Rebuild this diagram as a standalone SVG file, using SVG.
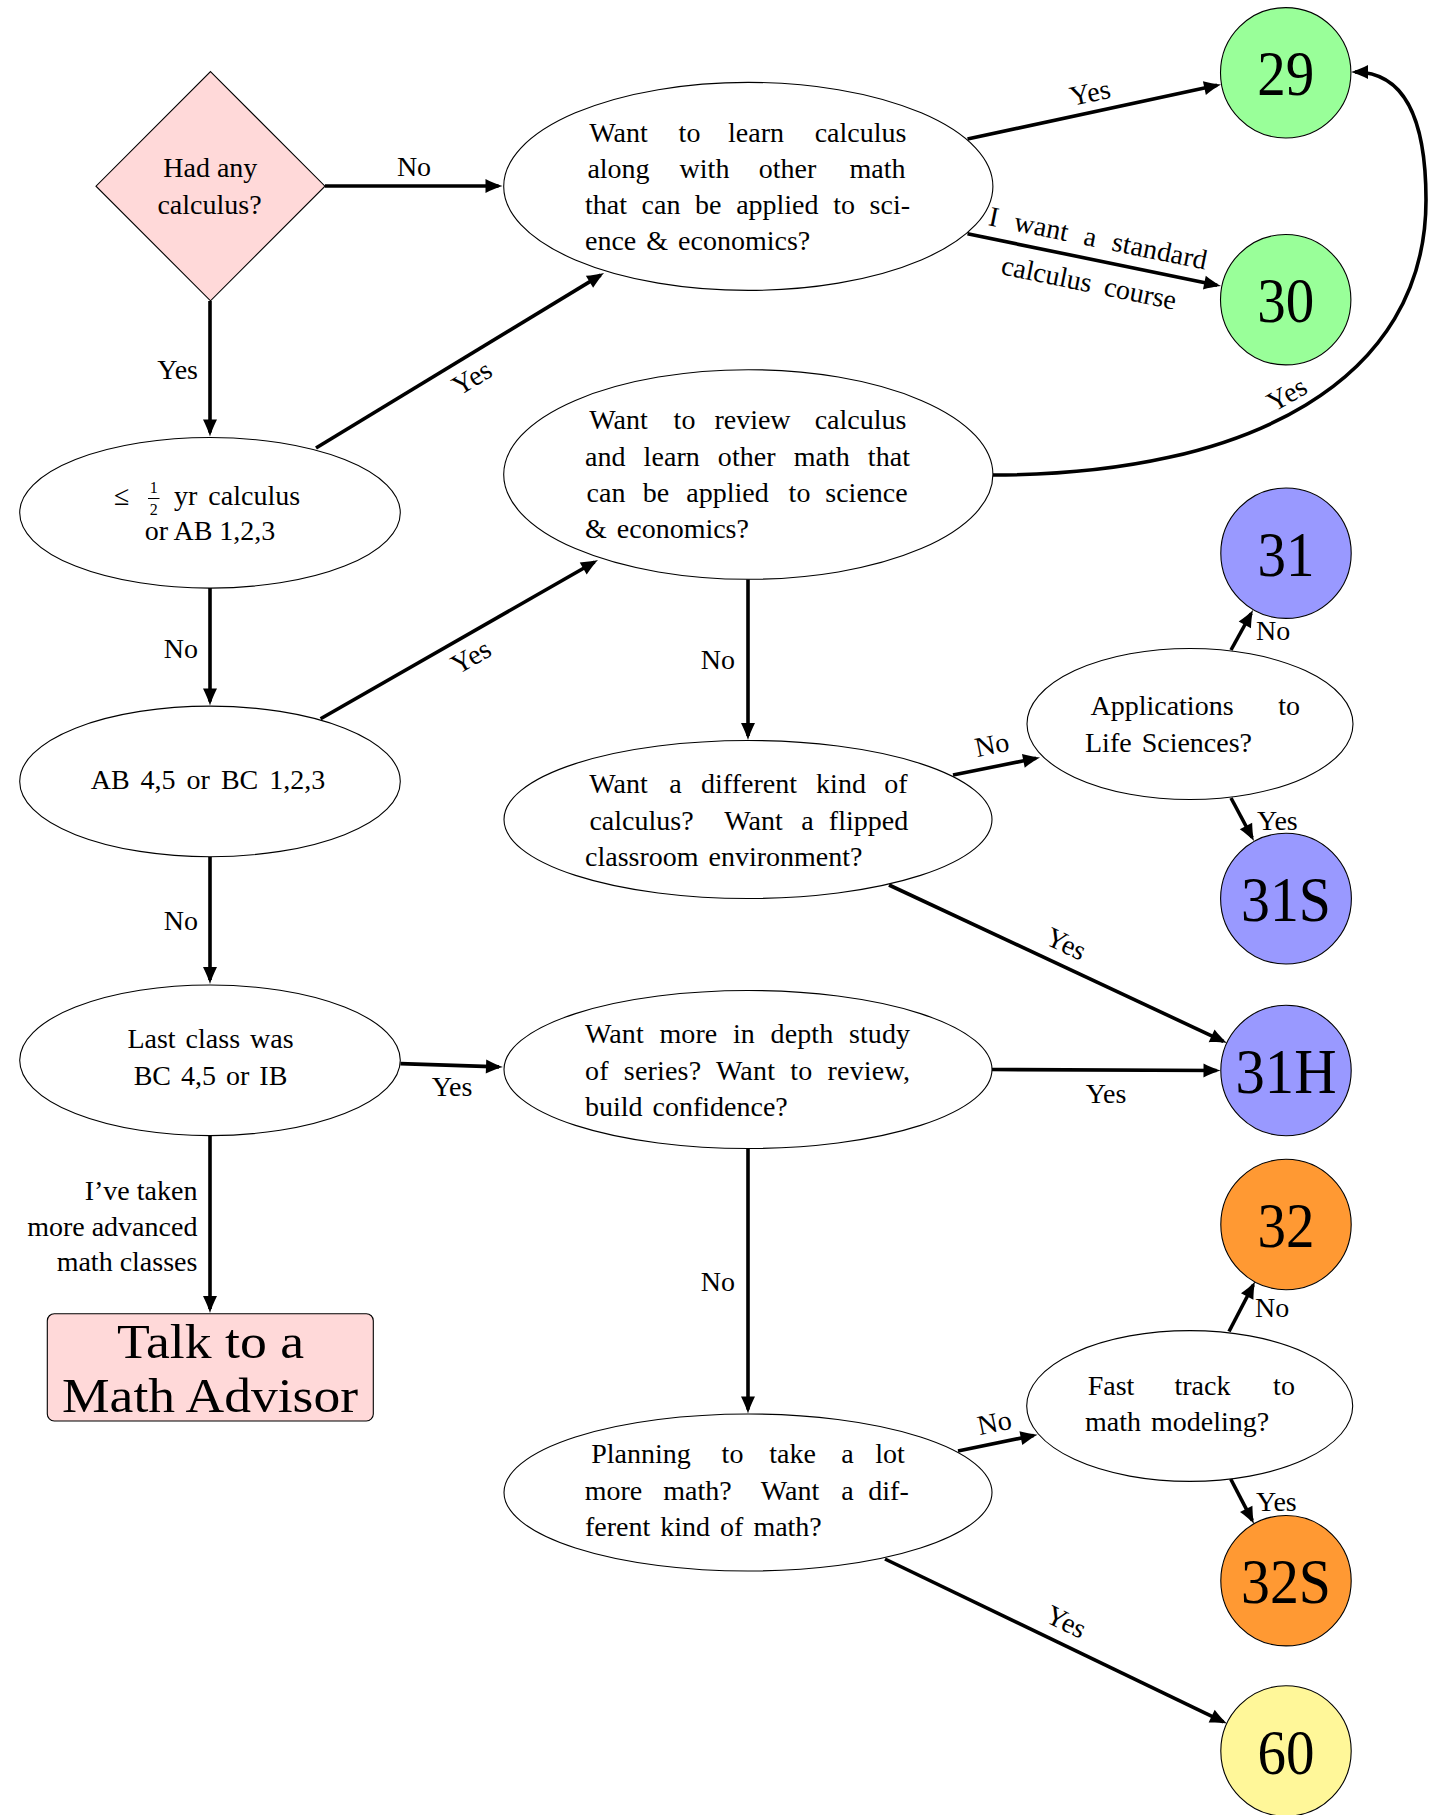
<svg xmlns="http://www.w3.org/2000/svg" width="1435" height="1815" viewBox="0 0 1435 1815">
<style>
text { font-family: "Liberation Serif", "Times New Roman", serif; font-size: 28px; fill: #000; }
.c { text-anchor: middle; }
.e { text-anchor: end; }
.big { font-size: 64px; text-anchor: middle; }
.huge { font-size: 49px; text-anchor: middle; }
.frac { font-size: 16px; text-anchor: middle; }
.shape { fill: #fff; stroke: #000; stroke-width: 1.1; }
.pink { fill: #FFD9D9; }
.green { fill: #99FF99; }
.blue { fill: #9999FF; }
.orange { fill: #FF9933; }
.yellow { fill: #FFF799; }
.edge { fill: none; stroke: #000; stroke-width: 3.6; marker-end: url(#arr); }
</style>
<defs>
<marker id="arr" markerUnits="userSpaceOnUse" markerWidth="24" markerHeight="18" viewBox="-16 -9 24 18" refX="0" refY="0" orient="auto" overflow="visible">
<path d="M4,0 C-2,-1.8 -8,-4.5 -13,-7 L-13,7 C-8,4.5 -2,1.8 4,0 Z" fill="#000"/>
</marker>
</defs>

<g id="connectors">
<path class="edge" d="M325,186 L498.5,186"/>
<path class="edge" d="M210,301 L210,432.5"/>
<path class="edge" d="M316,448 L600.6,275.1"/>
<path class="edge" d="M967.5,139 L1217.1,85.3"/>
<path class="edge" d="M967.5,233.8 L1217.1,285.2"/>
<path class="edge" d="M993,475 C1250,475 1426,380 1426,200 C1426,120 1405,72 1355,72"/>
<path class="edge" d="M210,588 L210,701.5"/>
<path class="edge" d="M320.6,718.7 L594.5,562"/>
<path class="edge" d="M210,856.7 L210,980"/>
<path class="edge" d="M748,579.3 L748,736"/>
<path class="edge" d="M953,775 L1036.1,758.3"/>
<path class="edge" d="M1231,650 L1251.1,613.5"/>
<path class="edge" d="M1231,798 L1252.1,837.5"/>
<path class="edge" d="M889,885 L1223.4,1041.3"/>
<path class="edge" d="M400.4,1063.6 L499,1066.9"/>
<path class="edge" d="M992,1069.5 L1216.5,1070.5"/>
<path class="edge" d="M210,1135.5 L210,1309"/>
<path class="edge" d="M748,1148.5 L748,1409.5"/>
<path class="edge" d="M958,1451 L1033.6,1435.5"/>
<path class="edge" d="M1229,1331.5 L1253.2,1285"/>
<path class="edge" d="M1230.7,1479 L1252.2,1520.4"/>
<path class="edge" d="M885,1559 L1223.4,1721.8"/>

<text class="c" x="414" y="175.5">No</text>
<text class="e" x="198" y="379">Yes</text>
<text class="c" transform="translate(472,378) rotate(-31.3)" y="9">Yes</text>
<text class="c" transform="translate(471,657) rotate(-29.8)" y="9">Yes</text>
<text class="e" x="198" y="657.5">No</text>
<text class="e" x="198" y="930">No</text>
<text class="c" transform="translate(1090,93) rotate(-12.1)" y="9">Yes</text>
<text class="c" transform="translate(1098,238.5) rotate(11.6)" y="9" word-spacing="9" textLength="222">I want a standard</text>
<text class="c" transform="translate(1089,283) rotate(11.6)" y="9" word-spacing="6">calculus course</text>
<text class="c" transform="translate(1287,394.5) rotate(-30)" y="9">Yes</text>
<text class="e" x="735" y="668.6">No</text>
<text class="c" transform="translate(992,745) rotate(-11.4)" y="9">No</text>
<text x="1256" y="640">No</text>
<text x="1257" y="829.5">Yes</text>
<text class="c" transform="translate(1066,944) rotate(25)" y="9">Yes</text>
<text class="c" x="452" y="1096">Yes</text>
<text class="c" x="1106" y="1103">Yes</text>
<text class="e" x="197.4" y="1199.5">I’ve taken</text>
<text class="e" x="197.4" y="1236">more advanced</text>
<text class="e" x="197.4" y="1271">math classes</text>
<text class="e" x="735" y="1291">No</text>
<text class="c" transform="translate(994.4,1423) rotate(-11.6)" y="9">No</text>
<text x="1255" y="1317">No</text>
<text x="1256" y="1511">Yes</text>
<text class="c" transform="translate(1066,1622) rotate(25.7)" y="9">Yes</text>
</g>

<g id="start">
<polygon class="shape pink" points="210.5,71.6 325,186.2 210.5,300.8 96,186.2"/>
<text class="c" x="210.3" y="177.4">Had any</text>
<text class="c" x="209.5" y="213.8">calculus?</text>
</g>

<g id="learn">
<ellipse class="shape" cx="748.3" cy="186.4" rx="244.6" ry="104"/>
<text class="c"><tspan x="618.5" y="142">Want</tspan><tspan x="689.5">to</tspan><tspan x="756">learn</tspan><tspan x="860.5">calculus</tspan></text>
<text class="c"><tspan x="618.5" y="178">along</tspan><tspan x="704.5">with</tspan><tspan x="787.5">other</tspan><tspan x="877.5">math</tspan></text>
<text x="585" y="214" word-spacing="7.6" textLength="325" lengthAdjust="spacing">that can be applied to sci-</text>
<text x="585" y="250" word-spacing="3">ence &amp; economics?</text>
</g>

<g id="n29">
<circle class="shape green" cx="1285.7" cy="72.8" r="65.2"/>
<text class="big" x="1285.7" y="95" textLength="57" lengthAdjust="spacingAndGlyphs">29</text>
</g>
<g id="n30">
<circle class="shape green" cx="1285.7" cy="299.7" r="65.2"/>
<text class="big" x="1285.7" y="322" textLength="57" lengthAdjust="spacingAndGlyphs">30</text>
</g>

<g id="half">
<ellipse class="shape" cx="210" cy="512.8" rx="190.3" ry="75.3"/>
<text class="c" x="121.7" y="505">≤</text>
<text class="frac" x="153.7" y="493">1</text>
<line x1="148" y1="498.5" x2="159.5" y2="498.5" stroke="#000" stroke-width="1"/>
<text class="frac" x="153.7" y="514.5">2</text>
<text x="174" y="505" word-spacing="4">yr calculus</text>
<text class="c" x="210" y="540">or AB 1,2,3</text>
</g>

<g id="review">
<ellipse class="shape" cx="748.3" cy="474.5" rx="244.6" ry="104.8"/>
<text class="c"><tspan x="618.5" y="429">Want</tspan><tspan x="684.5">to</tspan><tspan x="752.5">review</tspan><tspan x="860.5">calculus</tspan></text>
<text x="585" y="466" word-spacing="11" textLength="325" lengthAdjust="spacing">and learn other math that</text>
<text class="c"><tspan x="606" y="502">can</tspan><tspan x="656">be</tspan><tspan x="727.5">applied</tspan><tspan x="799.5">to</tspan><tspan x="866.5">science</tspan></text>
<text x="585" y="538" word-spacing="3">&amp; economics?</text>
</g>

<g id="n31">
<circle class="shape blue" cx="1286" cy="553.2" r="65.2"/>
<text class="big" x="1286" y="575.5" textLength="57" lengthAdjust="spacingAndGlyphs">31</text>
</g>

<g id="ab45">
<ellipse class="shape" cx="210" cy="781.4" rx="190.3" ry="75.3"/>
<text class="c" x="208" y="789" word-spacing="4">AB 4,5 or BC 1,2,3</text>
</g>

<g id="lifesci">
<ellipse class="shape" cx="1190" cy="724" rx="163" ry="75.5"/>
<text class="c" x="1162" y="715">Applications</text>
<text class="e" x="1300" y="715">to</text>
<text x="1085" y="752" word-spacing="3">Life Sciences?</text>
</g>

<g id="different">
<ellipse class="shape" cx="748" cy="819.5" rx="244" ry="79"/>
<text class="c"><tspan x="618.5" y="793">Want</tspan><tspan x="675.5">a</tspan><tspan x="749">different</tspan><tspan x="841">kind</tspan><tspan x="896">of</tspan></text>
<text class="c"><tspan x="641.5" y="830">calculus?</tspan><tspan x="753.5">Want</tspan><tspan x="807.5">a</tspan><tspan x="868.5">flipped</tspan></text>
<text x="585" y="866" word-spacing="3">classroom environment?</text>
</g>

<g id="n31S">
<circle class="shape blue" cx="1286" cy="898.6" r="65.4"/>
<text class="big" x="1286" y="921" textLength="90" lengthAdjust="spacingAndGlyphs">31S</text>
</g>

<g id="lastclass">
<ellipse class="shape" cx="210" cy="1060.3" rx="190.3" ry="75.3"/>
<text class="c" x="210.5" y="1048" word-spacing="3">Last class was</text>
<text class="c" x="210.5" y="1084.7" word-spacing="3">BC 4,5 or IB</text>
</g>

<g id="series">
<ellipse class="shape" cx="748" cy="1069.5" rx="244" ry="79"/>
<text x="585" y="1043" word-spacing="8.5" textLength="325" lengthAdjust="spacing">Want more in depth study</text>
<text x="585" y="1080" word-spacing="8" textLength="325" lengthAdjust="spacing">of series? Want to review,</text>
<text x="585" y="1116" word-spacing="3">build confidence?</text>
</g>

<g id="n31H">
<circle class="shape blue" cx="1286" cy="1070.5" r="65.2"/>
<text class="big" x="1286" y="1093" textLength="101" lengthAdjust="spacingAndGlyphs">31H</text>
</g>

<g id="n32">
<circle class="shape orange" cx="1286" cy="1224.5" r="65.2"/>
<text class="big" x="1286" y="1247" textLength="57" lengthAdjust="spacingAndGlyphs">32</text>
</g>

<g id="advisor">
<rect class="shape pink" x="47.3" y="1313.7" width="326" height="107.3" rx="7"/>
<text class="huge" x="210.5" y="1358" textLength="187" lengthAdjust="spacingAndGlyphs">Talk to a</text>
<text class="huge" x="210" y="1412" textLength="296" lengthAdjust="spacingAndGlyphs">Math Advisor</text>
</g>

<g id="fasttrack">
<ellipse class="shape" cx="1189.7" cy="1406" rx="163" ry="75.4"/>
<text class="c"><tspan x="1111" y="1395">Fast</tspan><tspan x="1202.5">track</tspan><tspan x="1284">to</tspan></text>
<text x="1085" y="1431" word-spacing="3">math modeling?</text>
</g>

<g id="planning">
<ellipse class="shape" cx="748" cy="1492.5" rx="244" ry="78.5"/>
<text class="c"><tspan x="641" y="1463">Planning</tspan><tspan x="732.5">to</tspan><tspan x="792.5">take</tspan><tspan x="847.5">a</tspan><tspan x="890">lot</tspan></text>
<text class="c"><tspan x="613.5" y="1500">more</tspan><tspan x="697.5">math?</tspan><tspan x="790">Want</tspan><tspan x="847.5">a</tspan><tspan x="888.5">dif-</tspan></text>
<text x="585" y="1536" word-spacing="3">ferent kind of math?</text>
</g>

<g id="n32S">
<circle class="shape orange" cx="1286" cy="1580.7" r="65.2"/>
<text class="big" x="1286" y="1603" textLength="90" lengthAdjust="spacingAndGlyphs">32S</text>
</g>

<g id="n60">
<circle class="shape yellow" cx="1286" cy="1751" r="65.2"/>
<text class="big" x="1286" y="1773.5" textLength="57" lengthAdjust="spacingAndGlyphs">60</text>
</g>
</svg>
